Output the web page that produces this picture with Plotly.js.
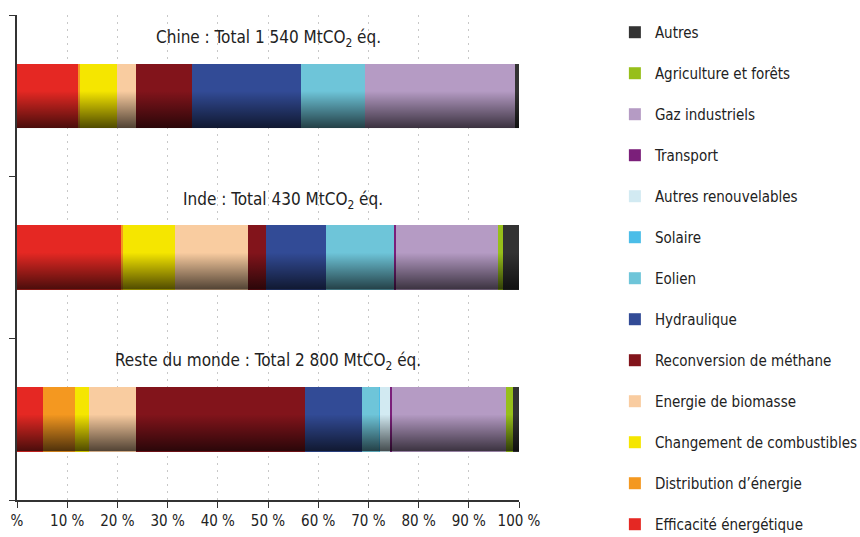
<!DOCTYPE html>
<html><head><meta charset="utf-8">
<script src="https://cdn.plot.ly/plotly-3.0.1.min.js"></script>
<style>html,body{margin:0;padding:0;background:#fff;}#chart{width:860px;height:537px;}</style>
</head><body><div id="chart"></div>
<script>
// Categories (bottom to top on the y axis)
const regions = ["Reste du monde", "Inde", "Chine"];
const regionTitles = [
  "Reste du monde : Total 2 800 MtCO<sub>2</sub> éq.",
  "Inde : Total 430 MtCO<sub>2</sub> éq.",
  "Chine : Total 1 540 MtCO<sub>2</sub> éq."
];
// Series in stacking order (left to right)
const seriesNames = [
  "Efficacité énergétique", "Distribution d’énergie", "Changement de combustibles",
  "Energie de biomasse", "Reconversion de méthane", "Hydraulique", "Eolien",
  "Solaire", "Autres renouvelables", "Transport", "Gaz industriels",
  "Agriculture et forêts", "Autres"
];
const seriesColors = [
  "#E52823", "#F49820", "#F5E600", "#F9CCA0", "#82141B", "#324B96", "#6EC5D9",
  "#4BBDE8", "#D2EAF2", "#7B1F7A", "#B59BC4", "#97BF1A", "#333333"
];
// Shares (%) per region, in series order
const chine = [12.1, 0.5, 7.4, 3.8, 11.1, 21.7, 12.7, 0, 0, 0, 30.0, 0, 0.7];
const inde  = [20.8, 0.3, 10.4, 14.6, 3.6, 11.8, 13.5, 0, 0, 0.4, 20.5, 1.0, 3.1];
const reste = [5.1, 6.4, 2.8, 9.5, 33.5, 11.5, 3.3, 0.2, 2.0, 0.4, 22.8, 1.3, 1.2];
// x tick labels
const tickVals = [0, 10, 20, 30, 40, 50, 60, 70, 80, 90, 100];
const tickText = ["%", "10 %", "20 %", "30 %", "40 %", "50 %", "60 %", "70 %", "80 %", "90 %", "100 %"];

const FONT = "'DejaVu Sans Condensed', 'Liberation Sans', Arial, sans-serif";
const byRegion = [reste, inde, chine];

const traces = seriesNames.map((name, i) => ({
  type: "bar",
  orientation: "h",
  name: name,
  legendgroup: "g" + i,
  legendrank: 100 - i,
  y: regions,
  x: byRegion.map(r => r[i]),
  marker: { color: seriesColors[i], line: { width: 0 } },
  hoverinfo: "name+x"
}));

// shading overlay (vertical gradient on the lower half of each bar)
const grad = 'data:image/svg+xml;charset=utf-8,' + encodeURIComponent(
  '<svg xmlns="http://www.w3.org/2000/svg" width="100" height="100" preserveAspectRatio="none">' +
  '<defs><linearGradient id="g" x1="0" y1="0" x2="0" y2="1">' +
  '<stop offset="0" stop-color="#000" stop-opacity="0"/>' +
  '<stop offset="1" stop-color="#000" stop-opacity="0.68"/></linearGradient></defs>' +
  '<rect width="100" height="100" fill="url(#g)"/></svg>');

const images = regions.map((r, i) => ({
  source: grad, xref: "x", yref: "y", x: 0, y: i + 0.03, sizex: 100, sizey: 0.23,
  xanchor: "left", yanchor: "top", sizing: "stretch", layer: "above"
}));

const annotations = regions.map((r, i) => ({
  xref: "x", yref: "y", x: i === 1 ? 53 : 50, y: i + 0.355,
  text: regionTitles[i], showarrow: false,
  font: { family: FONT, size: 17, color: "#222" }
}));

const layout = {
  width: 860, height: 537,
  margin: { l: 17, r: 341, t: 15, b: 37, autoexpand: false },
  paper_bgcolor: "#fff", plot_bgcolor: "#fff",
  barmode: "stack", bargap: 0.6,
  showlegend: true,
  font: { family: FONT, size: 15, color: "#222" },
  xaxis: {
    range: [0, 100], tickvals: tickVals, ticktext: tickText,
    showgrid: true, gridcolor: "#c8c8c8", griddash: "2px,5px", gridwidth: 1,
    zeroline: false, showline: true, linecolor: "#333", linewidth: 1.5,
    ticks: "outside", ticklen: 6, tickcolor: "#333", tickwidth: 1,
    tickfont: { family: FONT, size: 15, color: "#222" }, fixedrange: true
  },
  yaxis: {
    type: "category", categoryorder: "array", categoryarray: regions,
    range: [-0.5, 2.5], showticklabels: false, showgrid: false, zeroline: false,
    showline: true, linecolor: "#333", linewidth: 2,
    ticks: "outside", tickson: "boundaries", ticklen: 6, tickcolor: "#333", fixedrange: true
  },
  legend: {
    x: 1.191, xanchor: "left", y: 0.998, yanchor: "top",
    traceorder: "grouped", tracegroupgap: 18.5, maxheight: 700,
    font: { family: FONT, size: 15, color: "#222" },
    bgcolor: "rgba(0,0,0,0)"
  },
  images: images,
  annotations: annotations
};

Plotly.newPlot("chart", traces, layout, { displayModeBar: false, staticPlot: true });
</script>
</body></html>
